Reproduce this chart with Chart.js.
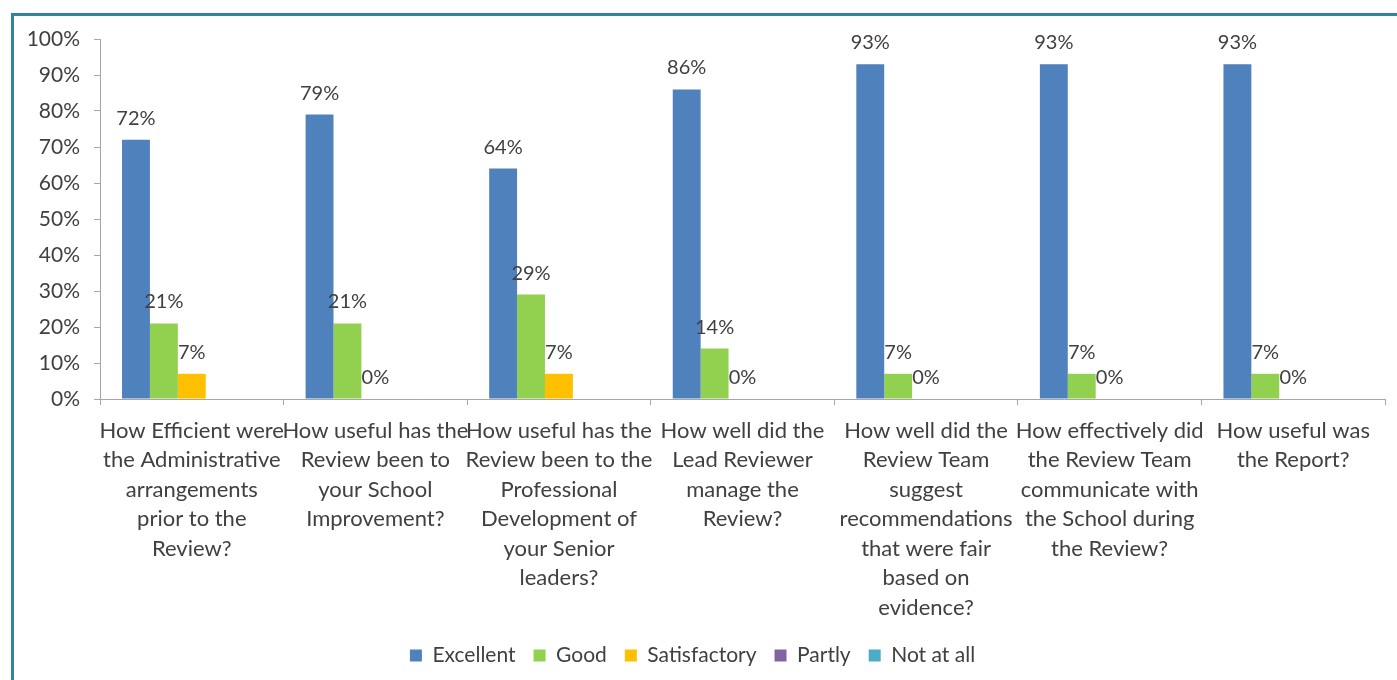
<!DOCTYPE html>
<html>
<head>
<meta charset="utf-8">
<script src="https://cdn.jsdelivr.net/npm/chart.js@4"></script>
<style>
  html, body { margin: 0; padding: 0; background: #ffffff; overflow: hidden; }
  #frame { position: absolute; left: 11px; top: 13px; width: 1420px; height: 700px;
           border-left: 3px solid #31849B; border-top: 3px solid #31849B; box-sizing: border-box; }
  #wrap { position: absolute; left: 0; top: 0; width: 1397px; height: 680px; }
</style>
</head>
<body>
<div id="frame"></div>
<div id="wrap"><canvas id="c" width="1397" height="680"></canvas></div>
<script>
const categories = [
  ["How Efficient were", "the Administrative", "arrangements", "prior to the", "Review?"],
  ["How useful has the", "Review been to", "your School", "Improvement?"],
  ["How useful has the", "Review been to the", "Professional", "Development of", "your Senior", "leaders?"],
  ["How well did the", "Lead Reviewer", "manage the", "Review?"],
  ["How well did the", "Review Team", "suggest", "recommendations", "that were fair", "based on", "evidence?"],
  ["How effectively did", "the Review Team", "communicate with", "the School during", "the Review?"],
  ["How useful was", "the Report?"]
];
const seriesNames = ["Excellent", "Good", "Satisfactory", "Partly", "Not at all"];
const excellent    = [72, 79, 64, 86, 93, 93, 93];
const good         = [21, 21, 29, 14, 7, 7, 7];
const satisfactory = [7, 0, 7, 0, 0, 0, 0];
const partly       = [null, null, null, null, null, null, null];
const notAtAll     = [null, null, null, null, null, null, null];
const yTicks = [0, 10, 20, 30, 40, 50, 60, 70, 80, 90, 100];

const colors = ["#4F81BD", "#92D050", "#FFC000", "#8064A2", "#4BACC6"];
const labelled = [true, true, true, false, false];
const FONT = "Lato, 'Open Sans', sans-serif";

const valueLabels = {
  id: 'valueLabels',
  afterDatasetsDraw(chart) {
    const ctx = chart.ctx;
    ctx.save();
    ctx.font = "20px " + FONT;
    ctx.fillStyle = "#404040";
    ctx.textAlign = "center";
    ctx.textBaseline = "alphabetic";
    chart.data.datasets.forEach((ds, i) => {
      if (!labelled[i]) return;
      const meta = chart.getDatasetMeta(i);
      meta.data.forEach((bar, j) => {
        const v = ds.data[j];
        if (v === null || v === undefined) return;
        ctx.fillText(v + "%", bar.x, bar.y - 15);
      });
    });
    ctx.restore();
  }
};

const allSeries = [excellent, good, satisfactory, partly, notAtAll];

new Chart(document.getElementById('c'), {
  type: 'bar',
  data: {
    labels: categories,
    datasets: seriesNames.map((n, i) => ({
      label: n,
      data: allSeries[i],
      backgroundColor: colors[i],
      borderWidth: 0,
      categoryPercentage: 0.76,
      barPercentage: 1.0
    }))
  },
  options: {
    responsive: false,
    animation: false,
    layout: { padding: { top: 39, left: 0, right: 12, bottom: 4 } },
    plugins: {
      tooltip: { enabled: false },
      legend: {
        position: 'bottom',
        labels: {
          boxWidth: 12, boxHeight: 12, padding: 18,
          color: '#404040',
          font: { family: FONT, size: 21 }
        }
      }
    },
    scales: {
      x: {
        grid: { display: true, drawOnChartArea: false, drawTicks: true, tickLength: 6, color: '#A6A6A6', offset: true },
        border: { display: true, color: '#A6A6A6', width: 1 },
        ticks: { color: '#404040', font: { family: FONT, size: 22, lineHeight: 1.34 }, padding: 11, maxRotation: 0, autoSkip: false },
        afterFit(scale) { scale.height = 228; }
      },
      y: {
        min: 0, max: 100,
        afterBuildTicks(scale) { scale.ticks = yTicks.map(v => ({ value: v })); },
        grid: { display: true, drawOnChartArea: false, drawTicks: true, tickLength: 6, color: '#A6A6A6' },
        border: { display: true, color: '#A6A6A6', width: 1 },
        ticks: { color: '#404040', font: { family: FONT, size: 21 }, padding: 14, callback: v => v + '%' },
        afterFit(scale) { scale.width = 100; }
      }
    }
  },
  plugins: [valueLabels]
});
</script>
</body>
</html>
